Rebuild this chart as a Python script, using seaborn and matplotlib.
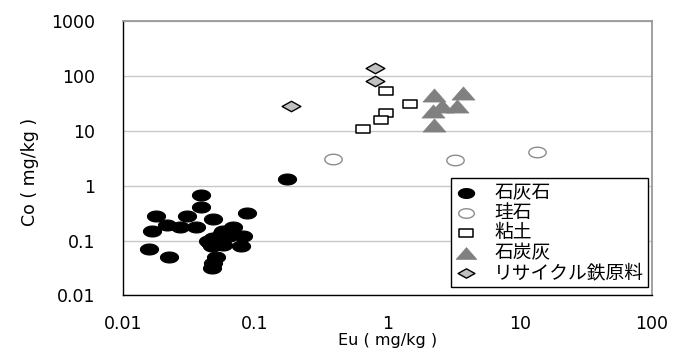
import numpy as np
import pandas as pd
import matplotlib
matplotlib.use("Agg")
import matplotlib.pyplot as plt
from matplotlib.path import Path
import seaborn as sns

# ---------------- data ----------------
limestone_eu = [0.039, 0.039, 0.0178, 0.0304, 0.087, 0.048, 0.0215, 0.027, 0.036,
                0.0166, 0.068, 0.057, 0.081, 0.048, 0.064, 0.0455, 0.057, 0.079,
                0.0159, 0.0223, 0.051, 0.048, 0.047, 0.056, 0.047, 0.052, 0.044, 0.176]
limestone_co = [0.66, 0.41, 0.28, 0.28, 0.32, 0.25, 0.195, 0.177, 0.177,
                0.147, 0.177, 0.147, 0.12, 0.111, 0.119, 0.09, 0.084, 0.081,
                0.070, 0.050, 0.050, 0.039, 0.031, 0.137, 0.078, 0.10, 0.10, 1.29]

silica_eu = [0.39, 3.24, 13.6]
silica_co = [3.1, 2.98, 4.1]

clay_eu = [0.98, 1.48, 0.98, 0.89, 0.65]
clay_co = [52, 31, 21, 15.3, 10.5]

coalash_eu = [2.25, 3.7, 2.59, 3.34, 2.2, 2.25]
coalash_co = [45, 48, 28, 28.5, 22.5, 12.4]

recycled_eu = [0.80, 0.80, 0.186]
recycled_co = [135, 79, 27.8]

series_names = ["石灰石", "珪石", "粘土", "石炭灰", "リサイクル鉄原料"]

tick_values = [0.01, 0.1, 1, 10, 100]
x_tick_labels = ["0.01", "0.1", "1", "10", "100"]
y_tick_values = [0.01, 0.1, 1, 10, 100, 1000]
y_tick_labels = ["0.01", "0.1", "1", "10", "100", "1000"]

x_label = "Eu ( mg/kg )"
y_label = "Co ( mg/kg )"

# ---------------- styling ----------------
sns.set_style("white")
plt.rcParams["font.family"] = ["DejaVu Sans", "Noto Sans CJK JP"]
plt.rcParams["text.color"] = "black"
plt.rcParams["axes.labelcolor"] = "black"
plt.rcParams["xtick.color"] = "black"
plt.rcParams["ytick.color"] = "black"


def stretched(verts, sx):
    v = np.array(verts, dtype=float)
    v[:, 0] *= sx
    v = np.vstack([v, v[:1]])  # closing vertex
    return Path(v, closed=True)


t = np.linspace(0, 2 * np.pi, 65)[:-1]
ellipse = stretched(np.column_stack([np.cos(t), np.sin(t)]), 1.65)
rect = stretched([[-1, -1], [1, -1], [1, 1], [-1, 1]], 1.75)
tri = stretched([[0, 1], [-1, -1], [1, -1]], 1.75)
diamond = stretched([[0, 1], [1, 0], [0, -1], [-1, 0]], 1.8)

fig = plt.figure(figsize=(6.8, 3.49), dpi=100)
ax = fig.add_axes([0.1804, 0.1533, 0.9588 - 0.1804, 0.9407 - 0.1533])

groups = [
    (limestone_eu, limestone_co, series_names[0], ellipse, "black", "black", 13.0, 0.8),
    (silica_eu, silica_co, series_names[1], ellipse, "white", "#8c8c8c", 12.5, 1.0),
    (clay_eu, clay_co, series_names[2], rect, "white", "black", 10.5, 1.1),
    (coalash_eu, coalash_co, series_names[3], tri, "#808080", "#808080", 16.5, 0.5),
    (recycled_eu, recycled_co, series_names[4], diamond, "#c0c0c0", "black", 13.5, 1.0),
]

for xs, ys, name, mk, fc, ec, size, lw in groups:
    df = pd.DataFrame({"Eu": xs, "Co": ys})
    sns.scatterplot(data=df, x="Eu", y="Co", ax=ax, marker=mk, s=size ** 2,
                    color=fc, edgecolor=ec, linewidth=lw, label=name, zorder=3)

ax.set_xscale("log")
ax.set_yscale("log")
ax.set_xlim(0.01, 100)
ax.set_ylim(0.01, 1000)
ax.set_xticks(tick_values, x_tick_labels)
ax.set_yticks(y_tick_values, y_tick_labels)
ax.minorticks_off()

ax.yaxis.grid(True, color="#c8c8c8", linewidth=1.0)
ax.xaxis.grid(False)
ax.set_axisbelow(True)

ax.tick_params(axis="x", direction="in", length=5, width=1, color="black",
               pad=14, labelsize=12.5, labelcolor="black")
ax.tick_params(axis="y", direction="in", length=6, width=1, color="black",
               pad=20, labelsize=12.5, labelcolor="black")

for side in ["left", "bottom"]:
    ax.spines[side].set_color("black")
    ax.spines[side].set_linewidth(1.0)
for side in ["top", "right"]:
    ax.spines[side].set_color("#999999")
    ax.spines[side].set_linewidth(1.3)

ax.set_xlabel(x_label, fontsize=11.5, color="black")
ax.xaxis.set_label_coords(0.5, -0.135)
ax.xaxis.label.set_va("top")
ax.set_ylabel(y_label, fontsize=12.5, color="black")
ax.yaxis.set_label_coords(-0.158, 0.45)

leg = ax.legend(loc="lower right", bbox_to_anchor=(0.9925, 0.031),
                frameon=True, fancybox=False, framealpha=1, edgecolor="black",
                prop={"family": ["Noto Sans CJK JP"], "size": 13.5},
                labelspacing=-0.05, handlelength=1.2, handletextpad=0.9,
                borderpad=0.2, borderaxespad=0, markerscale=0.9)
leg.get_frame().set_linewidth(1.0)

fig.savefig("out.png", dpi=100)
